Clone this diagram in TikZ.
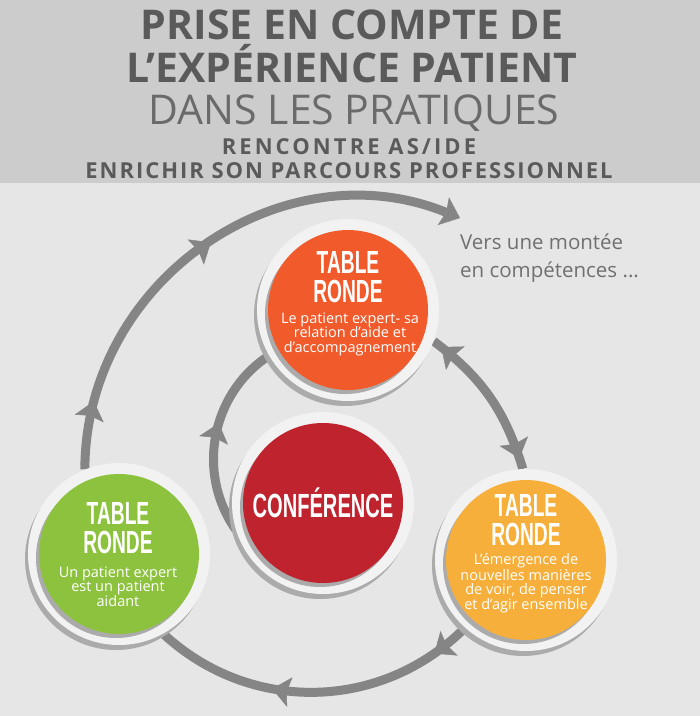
\documentclass[tikz,border=0pt]{standalone}
\usepackage{fontspec}
\setmainfont{Open Sans}
\newfontfamily\bannerfont[FakeStretch=0.6]{Liberation Sans}
\usepackage{tikz}
\usetikzlibrary{arrows.meta,calc,decorations.markings}
\definecolor{headgray}{HTML}{CCCCCC}
\definecolor{bodygray}{HTML}{E6E6E6}
\definecolor{titlegray}{HTML}{5A5A5A}
\definecolor{lightgray}{HTML}{6A6A6A}
\definecolor{goalgray}{HTML}{707070}
\definecolor{trackgray}{HTML}{858585}
\definecolor{ringwhite}{HTML}{F2F2F2}
\definecolor{shadowgray}{HTML}{ABABAB}
\definecolor{roundorange}{HTML}{F15A2B}
\definecolor{talkred}{HTML}{BF232E}
\definecolor{roundyellow}{HTML}{F7AF3B}
\definecolor{roundgreen}{HTML}{8DC23F}
\pgfdeclarelayer{paper}
\pgfdeclarelayer{track}
\pgfsetlayers{paper,track,main}
\tikzset{
  cyclehead/.tip={Stealth[length=18pt,width=30pt,inset=3pt,line width=0.5pt]},
  track/.style={color=trackgray,line width=9pt},
  discshadow/.style={circle,fill=shadowgray,minimum size=182pt,inner sep=0pt},
  ringdisc/.style={circle,fill=ringwhite,minimum size=182pt,inner sep=0pt},
  coreshadow/.style={circle,fill=shadowgray,minimum size=160pt,inner sep=0pt},
  coredisc/.style={circle,minimum size=160pt,inner sep=0pt},
  headline/.style={anchor=base,inner sep=0pt,text=titlegray},
  banner/.style={anchor=base,inner sep=0pt,align=center,text=white,
    font=\bannerfont\bfseries\fontsize{32}{28.5}\selectfont},
  subline/.style={anchor=base,inner sep=0pt,align=center,text=white,
    font=\fontsize{14.5}{14.5}\selectfont},
}
\newcommand{\tabledisc}[3]{%
  \node[discshadow] at ($(#2)+(-3,-5)$) {};
  \node[ringdisc] (#1) at (#2) {};
  \node[coreshadow] at ($(#2)+(-3,-4)$) {};
  \node[coredisc,fill=#3] at (#2) {};
}

\begin{document}
\begin{tikzpicture}[x=1pt,y=1pt]
  \useasboundingbox (0,0) rectangle (700,-716);
  \begin{pgfonlayer}{paper}
    \fill[bodygray] (0,-183) rectangle (700,-716);
    \fill[headgray] (0,0) rectangle (700,-183);
  \end{pgfonlayer}
  % Title block
  \node[headline,font=\fontsize{41}{41}\selectfont\bfseries] (title1) at (352,-39) {PRISE EN COMPTE DE};
  \node[headline,font=\fontsize{41}{41}\selectfont\bfseries] (title2) at (352,-82) {L’EXPÉRIENCE PATIENT};
  \node[headline,text=lightgray,font=\fontsize{41}{41}\selectfont] (title3) at (354,-124) {DANS LES PRATIQUES};
  \node[headline,font={\fontsize{22}{22}\selectfont\bfseries\addfontfeatures{LetterSpace=14}}] (title4) at (349,-154) {RENCONTRE AS/IDE};
  \node[headline,font={\fontsize{22}{22}\selectfont\bfseries\addfontfeatures{LetterSpace=9}}] (title5) at (349,-178) {ENRICHIR SON PARCOURS PROFESSIONNEL};
  % Discs
  \tabledisc{expert}{348,-310}{roundorange}
  \tabledisc{talk}{323,-503}{talkred}
  \tabledisc{emergence}{526,-560}{roundyellow}
  \tabledisc{aidant}{119,-554}{roundgreen}
  % Disc texts (base = last line)
  \node[banner] (expertT) at (348,-302) {TABLE\\RONDE};
  \node[subline] (expertS) at (350,-352) {Le patient expert- sa\\relation d’aide et\\d’accompagnement};
  \node[banner,font=\bannerfont\bfseries\fontsize{33.5}{33.5}\selectfont] (talkT) at (323,-517) {CONFÉRENCE};
  \node[banner] (emergenceT) at (526,-545) {TABLE\\RONDE};
  \node[subline] (emergenceS) at (526,-609) {L’émergence de\\nouvelles manières\\de voir, de penser\\et d’agir ensemble};
  \node[banner] (aidantT) at (118,-553) {TABLE\\RONDE};
  \node[subline] (aidantS) at (118,-606) {Un patient expert\\est un patient\\aidant};
  % Goal text
  \coordinate (goal) at (460,-218);
  \node[anchor=base west,inner sep=0pt,align=left,text=goalgray,font=\fontsize{20.5}{28}\selectfont] (goalT) at (460,-277) {Vers une montée\\en compétences ...};
  % Cycle arrows
  \begin{pgfonlayer}{track}
    \draw[track,-{cyclehead},postaction={decorate},
      decoration={markings,mark=at position 0.13 with {\arrow{cyclehead}},
        mark=at position 0.51 with {\arrow{cyclehead}}}]
      (aidant.112) to[bend left=56,looseness=1.08] (goal);
    \draw[track,postaction={decorate},
      decoration={markings,mark=at position 0.565 with {\arrow{cyclehead}}}]
      (talk.197) to[bend left=46] (expert.210);
    \draw[track,postaction={decorate},
      decoration={markings,mark=at position 0.06 with {\arrowreversed{cyclehead}},
        mark=at position 0.93 with {\arrow{cyclehead}}}]
      (expert.-20) to[bend left=18] (emergence.92);
    \draw[track,postaction={decorate},
      decoration={markings,mark=at position 0.12 with {\arrow{cyclehead}},
        mark=at position 0.63 with {\arrow{cyclehead}}}]
      (emergence.228) to[bend left=44] (aidant.-61);
  \end{pgfonlayer}
\end{tikzpicture}
\end{document}
